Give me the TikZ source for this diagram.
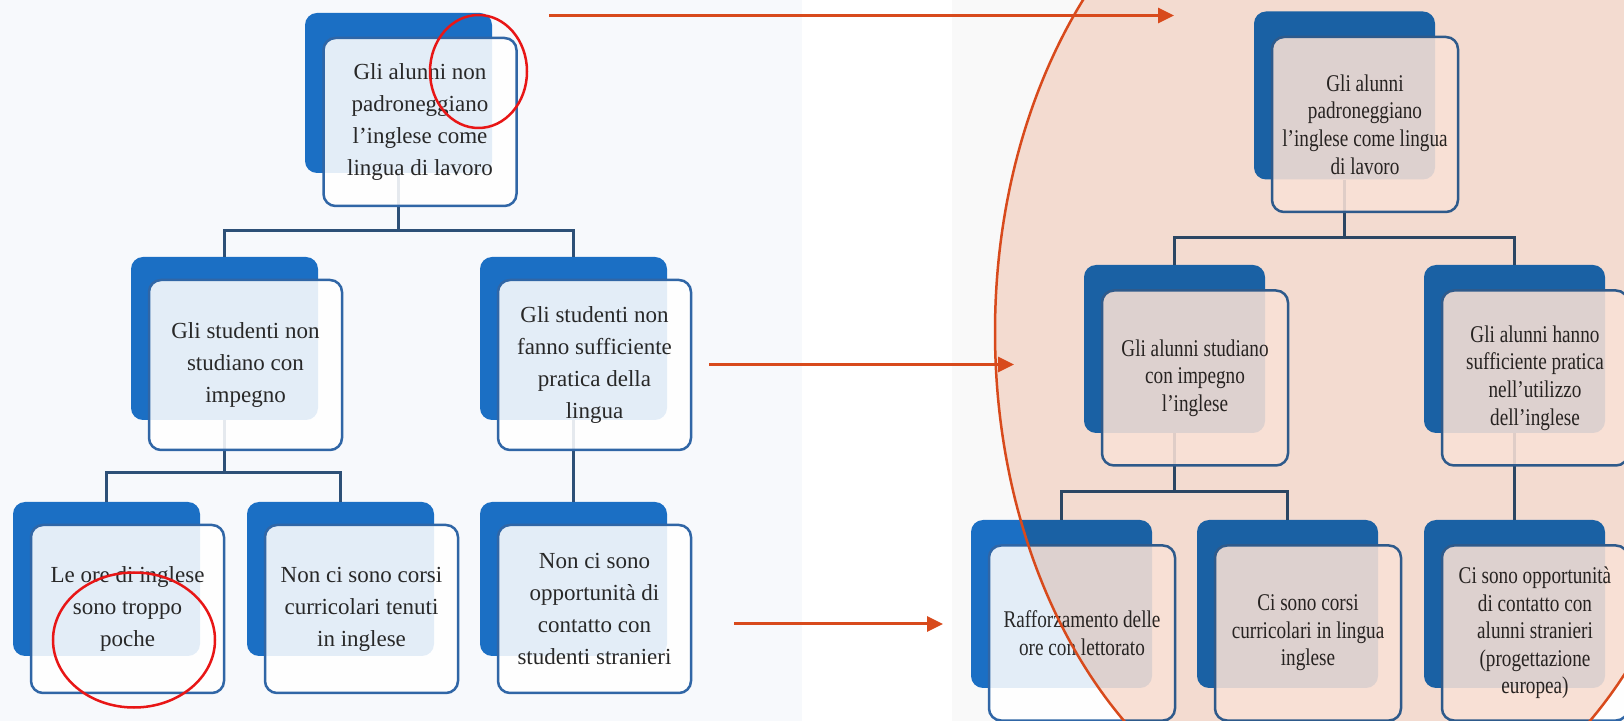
\documentclass[tikz,border=0pt]{standalone}
\usepackage{fontspec}
\setmainfont{Liberation Serif}
\newfontfamily\narrowserif[FakeStretch=0.8]{Liberation Serif}
\usetikzlibrary{arrows.meta}

\definecolor{boxblue}{RGB}{27,111,196}
\definecolor{edgeblue}{RGB}{48,102,166}
\definecolor{linkblue}{RGB}{45,80,119}
\definecolor{arrowred}{RGB}{216,74,28}
\definecolor{ringred}{RGB}{232,22,22}
\definecolor{peach}{RGB}{249,225,214}
\definecolor{textgray}{RGB}{40,40,40}
\definecolor{panelleft}{RGB}{247,249,252}
\definecolor{panelright}{RGB}{249,249,249}

\tikzset{
  backbox/.style={fill=boxblue, rounded corners=6pt, inner sep=0pt, draw=none},
  backL/.style={backbox, minimum width=93.5pt},
  backR/.style={backbox, minimum width=90.5pt, minimum height=84pt},
  frontbox/.style={draw=edgeblue, line width=1.25pt, fill=white, fill opacity=0.88,
    text opacity=1, rounded corners=6pt, inner sep=0pt, align=center, text=textgray},
  frontL/.style={frontbox, minimum width=96.5pt, font=\fontsize{11.5}{16}\selectfont},
  frontR/.style={frontbox, minimum width=93pt, minimum height=87.5pt,
    font=\narrowserif\fontsize{12}{13.8}\selectfont},
  link/.style={draw=linkblue, line width=1.5pt},
  redarrow/.style={draw=arrowred, line width=1.5pt, -{Triangle[length=8pt,width=7.5pt]}},
  ring/.style={draw=ringred, line width=1.25pt},
}

\begin{document}
\begin{tikzpicture}[x=0.5pt, y=-0.5pt]
\useasboundingbox (0,0) rectangle (1624,721);
\fill[white] (0,0) rectangle (1624,721);
\fill[panelleft] (0,0) rectangle (802,721);
\fill[panelright] (952,0) rectangle (1624,721);

% ---------- problem tree ----------
\node[backL, minimum height=80pt]   (topL-b) at (398.5,93) {};
\node[backL, minimum height=81.5pt] (L2a-b)  at (224.5,338.5) {};
\node[backL, minimum height=81.5pt] (L2b-b)  at (573.5,338.5) {};
\node[backL, minimum height=77pt]   (L3a-b)  at (106.5,579) {};
\node[backL, minimum height=77pt]   (L3b-b)  at (340.5,579) {};
\node[backL, minimum height=77pt]   (L3c-b)  at (573.5,579) {};

\draw[link] (topL-b.south) -- ++(0,57) -| (L2a-b.north);
\draw[link] (topL-b.south) -- ++(0,57) -| (L2b-b.north);
\draw[link] (L2a-b.south) -- ++(0,52) -| (L3a-b.north);
\draw[link] (L2a-b.south) -- ++(0,52) -| (L3b-b.north);
\draw[link] (L2b-b.south) -- (L3c-b.north);

\node[frontL, minimum height=84pt] (topL) at (420,122)
  {Gli alunni non\\padroneggiano\\l’inglese come\\lingua di lavoro};
\node[frontL, minimum height=85pt] (L2a) at (245.5,365)
  {Gli studenti non\\studiano con\\impegno};
\node[frontL, minimum height=85pt] (L2b) at (594.5,365)
  {Gli studenti non\\fanno sufficiente\\pratica della\\lingua};
\node[frontL, minimum height=84pt] (L3a) at (127.5,609)
  {Le ore di inglese\\sono troppo\\poche};
\node[frontL, minimum height=84pt] (L3b) at (361.5,609)
  {Non ci sono corsi\\curricolari tenuti\\in inglese};
\node[frontL, minimum height=84pt] (L3c) at (594.5,609)
  {Non ci sono\\opportunità di\\contatto con\\studenti stranieri};

% ---------- objective tree ----------
\node[backR] (topR-b) at (1344.5,95.5) {};
\node[backR] (R2a-b)  at (1174.5,349) {};
\node[backR] (R2b-b)  at (1514.5,349) {};
\node[backR] (R3a-b)  at (1061.5,604) {};
\node[backR] (R3b-b)  at (1287.5,604) {};
\node[backR] (R3c-b)  at (1514.5,604) {};

\draw[link] (topR-b.south) -- ++(0,57.5) -| (R2a-b.north);
\draw[link] (topR-b.south) -- ++(0,57.5) -| (R2b-b.north);
\draw[link] (R2a-b.south) -- ++(0,58) -| (R3a-b.north);
\draw[link] (R2a-b.south) -- ++(0,58) -| (R3b-b.north);
\draw[link] (R2b-b.south) -- (R3c-b.north);

\node[frontR] (topR) at (1365,124.5)
  {Gli alunni\\padroneggiano\\l’inglese come lingua\\di lavoro};
\node[frontR] (R2a) at (1195,378)
  {Gli alunni studiano\\con impegno\\l’inglese};
\node[frontR] (R2b) at (1535,378)
  {\raisebox{-4pt}{\parbox{93pt}{\centering Gli alunni hanno\\sufficiente pratica\\nell’utilizzo\\dell’inglese}}};
\node[frontR] (R3a) at (1082,633)
  {Rafforzamento delle\\ore con lettorato};
\node[frontR] (R3b) at (1308,633)
  {Ci sono corsi\\curricolari in lingua\\inglese};
\node[frontR] (R3c) at (1535,633)
  {Ci sono opportunità\\di contatto con\\alunni stranieri\\(progettazione\\europea)};

% ---------- highlighted area ----------
\begin{scope}[blend mode=multiply]
  \fill[peach] (1357,332) ellipse [x radius=181pt, y radius=254pt];
\end{scope}
\draw[arrowred, line width=1.25pt] (1357,332) ellipse [x radius=181pt, y radius=254pt];

% ---------- arrows ----------
\coordinate (a1s) at (549,15.5);  \coordinate (a1e) at (1174,15.5);
\coordinate (a2s) at (709,364.5); \coordinate (a2e) at (1014,364.5);
\coordinate (a3s) at (734,624);   \coordinate (a3e) at (943,624);
\draw[redarrow] (a1s) -- (a1e);
\draw[redarrow] (a2s) -- (a2e);
\draw[redarrow] (a3s) -- (a3e);

% ---------- hand-drawn rings ----------
\draw[ring] (478.5,71.5) ellipse [x radius=24.25pt, y radius=28.25pt];
\draw[ring] (134,640) ellipse [x radius=40.5pt, y radius=33.75pt];
\end{tikzpicture}
\end{document}
